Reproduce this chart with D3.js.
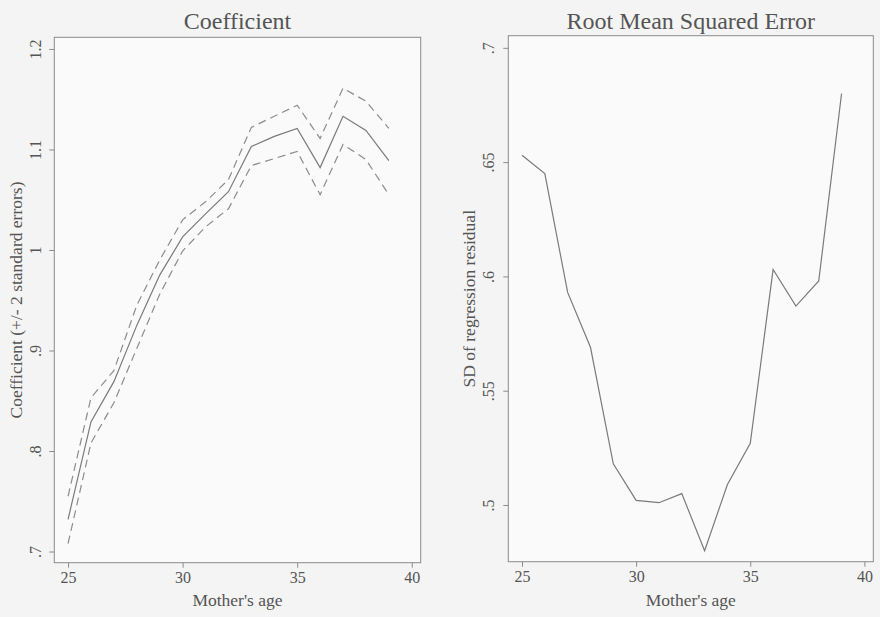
<!DOCTYPE html>
<html>
<head>
<meta charset="utf-8">
<script src="https://cdn.jsdelivr.net/npm/d3@7"></script>
<style>
  body { margin: 0; background: #f4f4f4; }
  svg { display: block; }
  .frame { fill: #fafafa; stroke: #8a8a8a; stroke-width: 1; }
  .tick line { stroke: #8a8a8a; }
  .tick text, .ttl, .atl { fill: #555; font-family: "Liberation Serif", "Times New Roman", serif; }
  .ln { fill: none; stroke: #7a7a7a; stroke-width: 1.2; }
  .dash { fill: none; stroke: #8c8c8c; stroke-width: 1.2; stroke-dasharray: 8,5; }
</style>
</head>
<body>
<svg id="chart" width="880" height="617"></svg>
<script>
// mother's age
var ages = [25, 26, 27, 28, 29, 30, 31, 32, 33, 34, 35, 36, 37, 38, 39];
// coefficient and +/- 2 se band
var coef      = [0.732, 0.829, 0.869, 0.925, 0.975, 1.013, 1.036, 1.058, 1.103, 1.113, 1.121, 1.082, 1.133, 1.119, 1.089];
var coefUpper = [0.755, 0.853, 0.880, 0.945, 0.990, 1.030, 1.048, 1.070, 1.122, 1.133, 1.144, 1.111, 1.161, 1.148, 1.121];
var coefLower = [0.708, 0.808, 0.848, 0.902, 0.956, 0.999, 1.023, 1.041, 1.084, 1.091, 1.098, 1.055, 1.105, 1.090, 1.055];
// SD of regression residual
var rmse = [0.653, 0.645, 0.593, 0.569, 0.518, 0.502, 0.501, 0.505, 0.480, 0.509, 0.527, 0.603, 0.587, 0.598, 0.680];

var xTicks = [25, 30, 35, 40];
var coefTicks = [0.7, 0.8, 0.9, 1.0, 1.1, 1.2];
var rmseTicks = [0.5, 0.55, 0.6, 0.65, 0.7];

var svg = d3.select('#chart');

function fmt(v) {
  // stata style: drop leading zero
  var s = d3.format('~g')(v);
  return s.replace(/^0\./, '.');
}

function panel(o) {
  var x = d3.scaleLinear().domain([24.4, 40.39]).range([o.left, o.right]);
  var y = d3.scaleLinear().domain(o.ydom).range([o.bottom, o.top]);
  var g = svg.append('g');

  g.append('rect').attr('class', 'frame')
    .attr('x', o.left).attr('y', o.top)
    .attr('width', o.right - o.left).attr('height', o.bottom - o.top);

  var xa = g.append('g').attr('transform', 'translate(0,' + o.bottom + ')')
    .call(d3.axisBottom(x).tickValues(xTicks).tickSize(5).tickPadding(4).tickFormat(d3.format('d')));
  xa.select('.domain').remove();
  xa.selectAll('text').attr('font-size', 16).attr('dy', '0.71em');

  var ya = g.append('g').attr('transform', 'translate(' + o.left + ',0)')
    .call(d3.axisLeft(y).tickValues(o.yticks).tickSize(5).tickFormat(fmt));
  ya.select('.domain').remove();
  ya.selectAll('text')
    .attr('font-size', 16)
    .attr('x', null).attr('dy', null)
    .attr('text-anchor', 'middle')
    .attr('transform', 'translate(' + (o.tickBase - o.left) + ',0) rotate(-90)');

  var line = d3.line().x(function(d, i){ return x(ages[i]); }).y(function(d){ return y(d); });
  o.series.forEach(function(s) {
    g.append('path').datum(s.values).attr('class', s.cls).attr('d', line);
  });

  g.append('text').attr('class', 'ttl')
    .attr('x', (o.left + o.right) / 2).attr('y', 29)
    .attr('text-anchor', 'middle').attr('font-size', 24)
    .text(o.title);

  g.append('text').attr('class', 'atl')
    .attr('x', (o.left + o.right) / 2).attr('y', 606)
    .attr('text-anchor', 'middle').attr('font-size', 17.5)
    .text("Mother's age");

  g.append('text').attr('class', 'atl')
    .attr('transform', 'translate(' + o.titleBase + ',' + (o.top + o.bottom) / 2 + ') rotate(-90)')
    .attr('text-anchor', 'middle').attr('font-size', 17.5)
    .text(o.ytitle);
}

panel({
  left: 54.3, right: 420.7, top: 37.3, bottom: 562.7,
  ydom: [0.6889, 1.2116], yticks: coefTicks,
  tickBase: 40.5, titleBase: 22,
  title: 'Coefficient', ytitle: 'Coefficient (+/- 2 standard errors)',
  series: [
    {values: coefUpper, cls: 'dash'},
    {values: coefLower, cls: 'dash'},
    {values: coef, cls: 'ln'}
  ]
});

panel({
  left: 508.3, right: 873.3, top: 35.7, bottom: 561.7,
  ydom: [0.4752, 0.7053], yticks: rmseTicks,
  tickBase: 493.5, titleBase: 475,
  title: 'Root Mean Squared Error', ytitle: 'SD of regression residual',
  series: [
    {values: rmse, cls: 'ln'}
  ]
});
</script>
</body>
</html>
